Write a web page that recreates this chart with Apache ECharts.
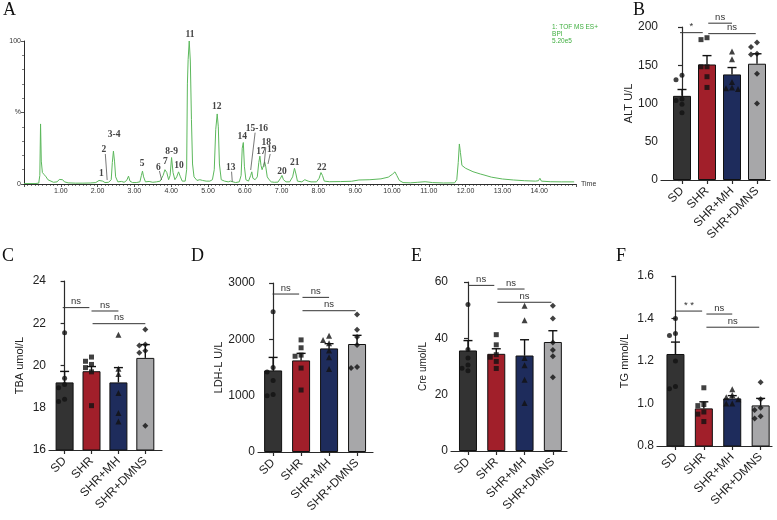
<!DOCTYPE html>
<html><head><meta charset="utf-8">
<script src="https://cdn.jsdelivr.net/npm/echarts@6/dist/echarts.min.js"></script>
<style>html,body{margin:0;padding:0;background:#fff}#c{width:777px;height:520px}</style>
</head><body><div id="c"></div>
<script>
// ---------------- DATA ----------------
const groups = ['SD', 'SHR', 'SHR+MH', 'SHR+DMNS'];

// Panel A: base peak chromatogram [time (min), relative intensity %]
const chromTrace = [
[0.00,0.3],[0.30,0.3],[0.40,0.6],[0.43,6],[0.45,42],[0.47,16],[0.50,8],[0.55,6.5],[0.60,5],[0.65,3],[0.70,2],[0.80,1.2],[0.90,1.5],[0.96,3.2],[1.00,4],[1.05,3],[1.10,1.5],[1.20,0.8],[1.40,0.6],[1.60,0.6],[1.80,0.7],[1.95,1],[2.04,2.5],[2.09,3.3],[2.14,2],[2.20,1],[2.30,1.2],[2.37,3],[2.40,15],[2.43,23],[2.46,16],[2.49,5],[2.55,1.5],[2.65,1.8],[2.72,1.2],[2.79,2.5],[2.84,5.5],[2.88,2],[2.95,1],[3.05,1],[3.15,1.5],[3.19,6],[3.22,9],[3.25,5],[3.30,1.5],[3.40,1.8],[3.50,1.2],[3.60,1.5],[3.70,2],[3.78,6],[3.83,10],[3.88,8],[3.93,3],[3.97,6],[4.01,18.5],[4.05,8],[4.10,3],[4.15,5],[4.20,8.5],[4.25,5],[4.30,2],[4.38,2],[4.42,10],[4.44,70],[4.46,87],[4.49,100],[4.52,86],[4.55,45],[4.58,14],[4.62,5],[4.70,2.5],[4.78,3],[4.81,3.5],[4.85,2.5],[4.95,2],[5.05,2],[5.12,3],[5.17,10],[5.21,38],[5.25,49],[5.28,40],[5.31,14],[5.36,3],[5.45,2],[5.55,1.5],[5.61,2],[5.63,2.5],[5.66,1.5],[5.75,1],[5.85,1.5],[5.90,6],[5.93,25],[5.96,29],[5.99,12],[6.03,3],[6.10,2],[6.16,6],[6.19,8.5],[6.22,4],[6.28,3],[6.34,5],[6.38,15],[6.41,19.5],[6.44,13],[6.47,10],[6.51,13],[6.54,15.5],[6.57,12],[6.61,5],[6.66,3],[6.72,1.5],[6.80,1.2],[6.90,1.3],[6.97,4],[7.01,6],[7.05,3],[7.12,1.5],[7.22,1.5],[7.30,5],[7.35,11],[7.39,7],[7.43,2],[7.55,1.5],[7.63,3],[7.68,4],[7.72,2],[7.80,1.5],[7.95,1.5],[8.02,4],[8.07,8],[8.11,6],[8.16,2],[8.30,1.6],[8.60,1.7],[8.90,1.9],[9.10,2.8],[9.40,3],[9.70,3.6],[9.90,4.8],[10.02,7],[10.08,8.5],[10.13,6],[10.20,2.5],[10.30,1],[10.50,0.8],[10.70,1.2],[10.90,1.6],[11.10,1],[11.40,0.7],[11.70,0.8],[11.76,3],[11.80,15],[11.83,28],[11.86,22],[11.90,13],[12.00,11],[12.20,8.6],[12.40,7],[12.50,6.3],[12.52,5.5],[12.70,4.8],[13.00,3.5],[13.30,2.8],[13.60,2.3],[13.90,2],[13.98,2.3],[14.02,4],[14.06,2],[14.30,1.6],[14.60,1.5],[14.95,1.5]
];
// peak numbers [time, intensity %, text]
const peakLabels = [
[2.10,7.0,'1'],[2.17,24.4,'2'],[2.45,34.3,'3-4'],[3.21,14.0,'5'],[3.65,11.7,'6'],[3.84,15.6,'7'],
[4.01,22.6,'8-9'],[4.21,12.8,'10'],[4.51,104.7,'11'],[5.24,54,'12'],[5.62,11.7,'13'],[5.93,33.1,'14'],
[6.33,38.5,'15-16'],[6.44,22.6,'17'],[6.58,28.9,'18'],[6.73,24.4,'19'],[7.01,8.6,'20'],[7.36,14.9,'21'],[8.09,11.7,'22']
];
// leader lines [t1, p1, t2, p2]
const peakLeaders = [
[2.21,21.0,2.26,2.8],[3.68,9.1,3.74,2.8],[5.64,8.6,5.66,1.6],[6.28,35.9,6.16,9.8],[6.57,25.5,6.52,12],[6.69,21,6.63,14]
];
const chromInfo = ['1: TOF MS ES+', 'BPI', '5.20e5'];

// Panel B: ALT U/L
const altMean = [110, 151, 138, 152];
const altSem = [8.3, 11.6, 9, 13];
const altPoints = [[137,131,106,104,99,88],[186,183.5,148,148,135,121],[168,158,128,120,119,121],[174,179.6,164,165,139,100]];
const altSig = [[-0.08,0.83,192.6,'*'],[1.05,2.0,205,'ns'],[1.05,2.95,191.3,'ns']];

// Panel C: TBA umol/L
const tbaMean = [19.2, 19.73, 19.2, 20.36];
const tbaSem = [0.52, 0.22, 0.7, 0.63];
const tbaPoints = [[21.55,19.4,18.95,18.3,18.4,19.1],[20.4,20.2,20.05,19.9,19.7,18.1],[21.45,19.85,19.6,18.7,17.75,17.35],[21.7,21.0,20.95,20.7,20.6,17.15]];
const tbaSig = [[-0.07,0.92,22.74,'ns'],[1.0,2.0,22.58,'ns'],[1.04,3.0,21.98,'ns']];

// Panel D: LDH-L U/L
const ldhMean = [1448, 1626, 1839, 1917];
const ldhSem = [231, 125, 84, 154];
const ldhPoints = [[2490,1500,1420,1270,1000,1020],[1990,1850,1720,1700,1490,1100],[2065,1990,1930,1800,1680,1475],[2440,2170,2040,1900,1490,1510]];
const ldhSig = [[-0.02,0.93,2804,'ns'],[1.05,2.0,2745,'ns'],[1.05,2.95,2508,'ns']];

// Panel E: Cre umol/L
const creMean = [35.7, 34.5, 33.9, 38.7];
const creSem = [3.5, 1.8, 5.6, 4.0];
const crePoints = [[52,36,33,30.5,29.4,28.5],[41.3,37.7,34.2,33.3,31.8,29.3],[51.6,46.4,33,30.4,25.3,17],[51.6,47,38.5,35.9,33.6,26.2]];
const creSig = [[0,0.93,58.8,'ns'],[1.04,2.0,57.5,'ns'],[1.04,2.95,52.8,'ns']];

// Panel F: TG mmol/L
const tgMean = [1.233, 0.977, 1.024, 0.991];
const tgSem = [0.056, 0.031, 0.013, 0.033];
const tgPoints = [[1.40,1.33,1.32,1.20,1.08,1.07],[1.074,0.995,0.99,0.96,0.95,0.915],[1.067,1.04,1.03,1.02,1.0,1.0],[1.10,1.02,0.98,0.97,0.93,0.94]];
const tgSig = [[0.01,0.94,1.435,'* *'],[1.09,2.0,1.421,'ns'],[1.09,2.95,1.359,'ns']];

// ---------------- STYLE / LAYOUT ----------------
const barColors = ['#333333', '#a11f2a', '#1e2c5c', '#a7a7a9'];
const pointSymbols = ['circle', 'rect', 'triangle', 'diamond'];
const pointSizes = [5, 5, 6, 6];
const SANS = 'Liberation Sans, Arial, sans-serif';
const SERIF = 'Liberation Serif, Times New Roman, serif';
const AX = '#2a2a2a';

const panels = [
  {name:'ALT U/L', mean:altMean, sem:altSem, pts:altPoints, sig:altSig, min:0, max:200, interval:50, fmt:v=>v,
   grid:{left:661, top:27, width:109, height:153}, xmin:-0.84, xmax:3.52, nameGap:21, fs:11},
  {name:'TBA umol/L', mean:tbaMean, sem:tbaSem, pts:tbaPoints, sig:tbaSig, min:16, max:24, interval:2, fmt:v=>v,
   grid:{left:49, top:281, width:113, height:169}, xmin:-0.58, xmax:3.62, nameGap:24, fs:11},
  {name:'LDH-L U/L', mean:ldhMean, sem:ldhSem, pts:ldhPoints, sig:ldhSig, min:0, max:3000, interval:1000, fmt:v=>v,
   grid:{left:258, top:283, width:115, height:169}, xmin:-0.54, xmax:3.57, nameGap:34, fs:11},
  {name:'Cre umol/L', mean:creMean, sem:creSem, pts:crePoints, sig:creSig, min:0, max:60, interval:20, fmt:v=>v,
   grid:{left:451, top:282, width:116, height:169}, xmin:-0.6, xmax:3.5, nameGap:23, fs:10},
  {name:'TG mmol/L', mean:tgMean, sem:tgSem, pts:tgPoints, sig:tgSig, min:0.8, max:1.6, interval:0.2, fmt:v=>v.toFixed(1),
   grid:{left:657, top:276, width:115, height:170}, xmin:-0.65, xmax:3.4, nameGap:27, fs:11}
];

// ---------------- BUILD ----------------
const grids = [], xAxes = [], yAxes = [], series = [];

// Panel A
grids.push({left:24, top:41, width:552, height:143});
xAxes.push({gridIndex:0, type:'value', min:0, max:15, interval:1,
  name:'Time', nameLocation:'end', nameGap:5, nameTextStyle:{fontSize:7, color:'#333', fontFamily:SANS, verticalAlign:'middle'},
  axisLine:{lineStyle:{color:AX, width:1}}, axisTick:{length:3, lineStyle:{color:AX, width:0.8}},
  minorTick:{show:true, splitNumber:10, length:2, lineStyle:{color:AX, width:0.6}},
  axisLabel:{fontSize:7, color:'#333', fontFamily:SANS, margin:4, formatter:v=>(v===0||v===15)?'':v.toFixed(2)},
  splitLine:{show:false}, minorSplitLine:{show:false}});
yAxes.push({gridIndex:0, type:'value', min:0, max:100, interval:50,
  axisLine:{show:true, lineStyle:{color:AX, width:1}}, axisTick:{show:true, length:3, lineStyle:{color:AX, width:0.8}},
  minorTick:{show:true, splitNumber:5, length:2, lineStyle:{color:AX, width:0.6}},
  axisLabel:{fontSize:7, color:'#333', fontFamily:SANS, margin:3, formatter:v=>v===50?'%':v},
  splitLine:{show:false}, minorSplitLine:{show:false}});
series.push({type:'line', xAxisIndex:0, yAxisIndex:0, data:chromTrace, showSymbol:false, symbol:'none',
  lineStyle:{color:'#5cb85c', width:1}, z:3});
series.push({type:'custom', xAxisIndex:0, yAxisIndex:0, data:peakLabels, encode:{x:0, y:1}, z:5,
  renderItem:(p, api)=>{const c=api.coord([api.value(0), api.value(1)]);
    return {type:'text', x:c[0], y:c[1], style:{text:peakLabels[p.dataIndex][2], align:'center', verticalAlign:'middle',
      font:'bold 9.5px ' + SERIF, fill:'#444'}};}});
series.push({type:'custom', xAxisIndex:0, yAxisIndex:0, data:peakLeaders, encode:{x:[0,2], y:[1,3]}, z:4,
  renderItem:(p, api)=>{const a=api.coord([api.value(0), api.value(1)]), b=api.coord([api.value(2), api.value(3)]);
    return {type:'line', shape:{x1:a[0], y1:a[1], x2:b[0], y2:b[1]}, style:{stroke:'#555', lineWidth:0.8}};}});

// bar panels
panels.forEach((P, k) => {
  const gi = k + 1;
  grids.push(P.grid);
  xAxes.push({gridIndex:gi, type:'value', min:P.xmin, max:P.xmax,
    axisLine:{show:true, lineStyle:{color:AX, width:1.2}},
    axisTick:{show:true, customValues:[0,1,2,3], length:4, lineStyle:{color:AX, width:1.2}},
    axisLabel:{customValues:[0,1,2,3], formatter:v=>groups[Math.round(v)], rotate:45, fontSize:12, color:'#222', fontFamily:SANS, margin:9},
    splitLine:{show:false}});
  yAxes.push({gridIndex:gi, type:'value', min:P.min, max:P.max, interval:P.interval,
    name:P.name, nameLocation:'middle', nameGap:P.nameGap, nameTextStyle:{fontSize:P.fs, color:'#222', fontFamily:SANS},
    axisLine:{show:true, lineStyle:{color:AX, width:1.2}},
    axisTick:{show:true, length:4, lineStyle:{color:AX, width:1.2}},
    axisLabel:{fontSize:12, color:'#222', fontFamily:SANS, margin:3, formatter:P.fmt},
    splitLine:{show:false}});
  series.push({type:'bar', xAxisIndex:gi, yAxisIndex:gi, barWidth:18, z:2,
    data:P.mean.map((m, i) => ({value:[i, m], itemStyle:{color:barColors[i]}})),
    itemStyle:{borderColor:'#111', borderWidth:1}});
  series.push({type:'custom', xAxisIndex:gi, yAxisIndex:gi, z:4,
    data:P.mean.map((m, i) => [i, m, m + P.sem[i]]), encode:{x:0, y:[1,2]},
    renderItem:(p, api)=>{const a=api.coord([api.value(0), api.value(1)]), b=api.coord([api.value(0), api.value(2)]);
      return {type:'group', children:[
        {type:'line', shape:{x1:a[0], y1:a[1], x2:b[0], y2:b[1]}, style:{stroke:'#111', lineWidth:1.4}},
        {type:'line', shape:{x1:b[0]-4.5, y1:b[1], x2:b[0]+4.5, y2:b[1]}, style:{stroke:'#111', lineWidth:1.4}}]};}});
  // beeswarm placement
  const pxPerUnitY = P.grid.height / (P.max - P.min);
  const pxPerUnitX = P.grid.width / (P.xmax - P.xmin);
  P.pts.forEach((vals, g) => {
    const placed = [];
    const sorted = vals.slice().sort((a, b) => b - a);
    const data = sorted.map(v => {
      const cands = [0, -6, 6, -11, 11];
      let off = 0;
      for (const c of cands) {
        if (!placed.some(q => Math.abs(q.y - v * pxPerUnitY) < 5 && Math.abs(q.x - c) < 5)) { off = c; break; }
      }
      placed.push({x:off, y:v * pxPerUnitY});
      return [g + off / pxPerUnitX, v];
    });
    series.push({type:'scatter', xAxisIndex:gi, yAxisIndex:gi, z:5, data, symbol:pointSymbols[g], symbolSize:pointSizes[g],
      itemStyle:{color:'#111'}});
  });
  series.push({type:'custom', xAxisIndex:gi, yAxisIndex:gi, z:6, data:P.sig, encode:{x:[0,1], y:2}, clip:false,
    renderItem:(p, api)=>{const a=api.coord([api.value(0), api.value(2)]), b=api.coord([api.value(1), api.value(2)]);
      return {type:'group', children:[
        {type:'line', shape:{x1:a[0], y1:a[1], x2:b[0], y2:b[1]}, style:{stroke:'#333', lineWidth:1}},
        {type:'text', x:(a[0]+b[0])/2, y:a[1]-1, style:{text:P.sig[p.dataIndex][3], align:'center', verticalAlign:'bottom',
          font:'9.5px ' + SANS, fill:'#333'}}]};}});
});

const letter = (t, x, y) => ({type:'text', left:x, top:y, style:{text:t, font:'18px ' + SERIF, fill:'#111'}});
const graphic = [
  letter('A', 3, 1), letter('B', 633, 1), letter('C', 2, 247), letter('D', 191, 247), letter('E', 411, 247), letter('F', 616, 247),
  {type:'text', right:179, top:24, style:{text:chromInfo.join('\n'), font:'6.5px ' + SANS, fill:'#3fae3f', align:'right', lineHeight:7}}
];

const chart = echarts.init(document.getElementById('c'), null, {renderer:'canvas'});
chart.setOption({animation:false, backgroundColor:'#fff', grid:grids, xAxis:xAxes, yAxis:yAxes, series, graphic});
</script>
</body></html>
